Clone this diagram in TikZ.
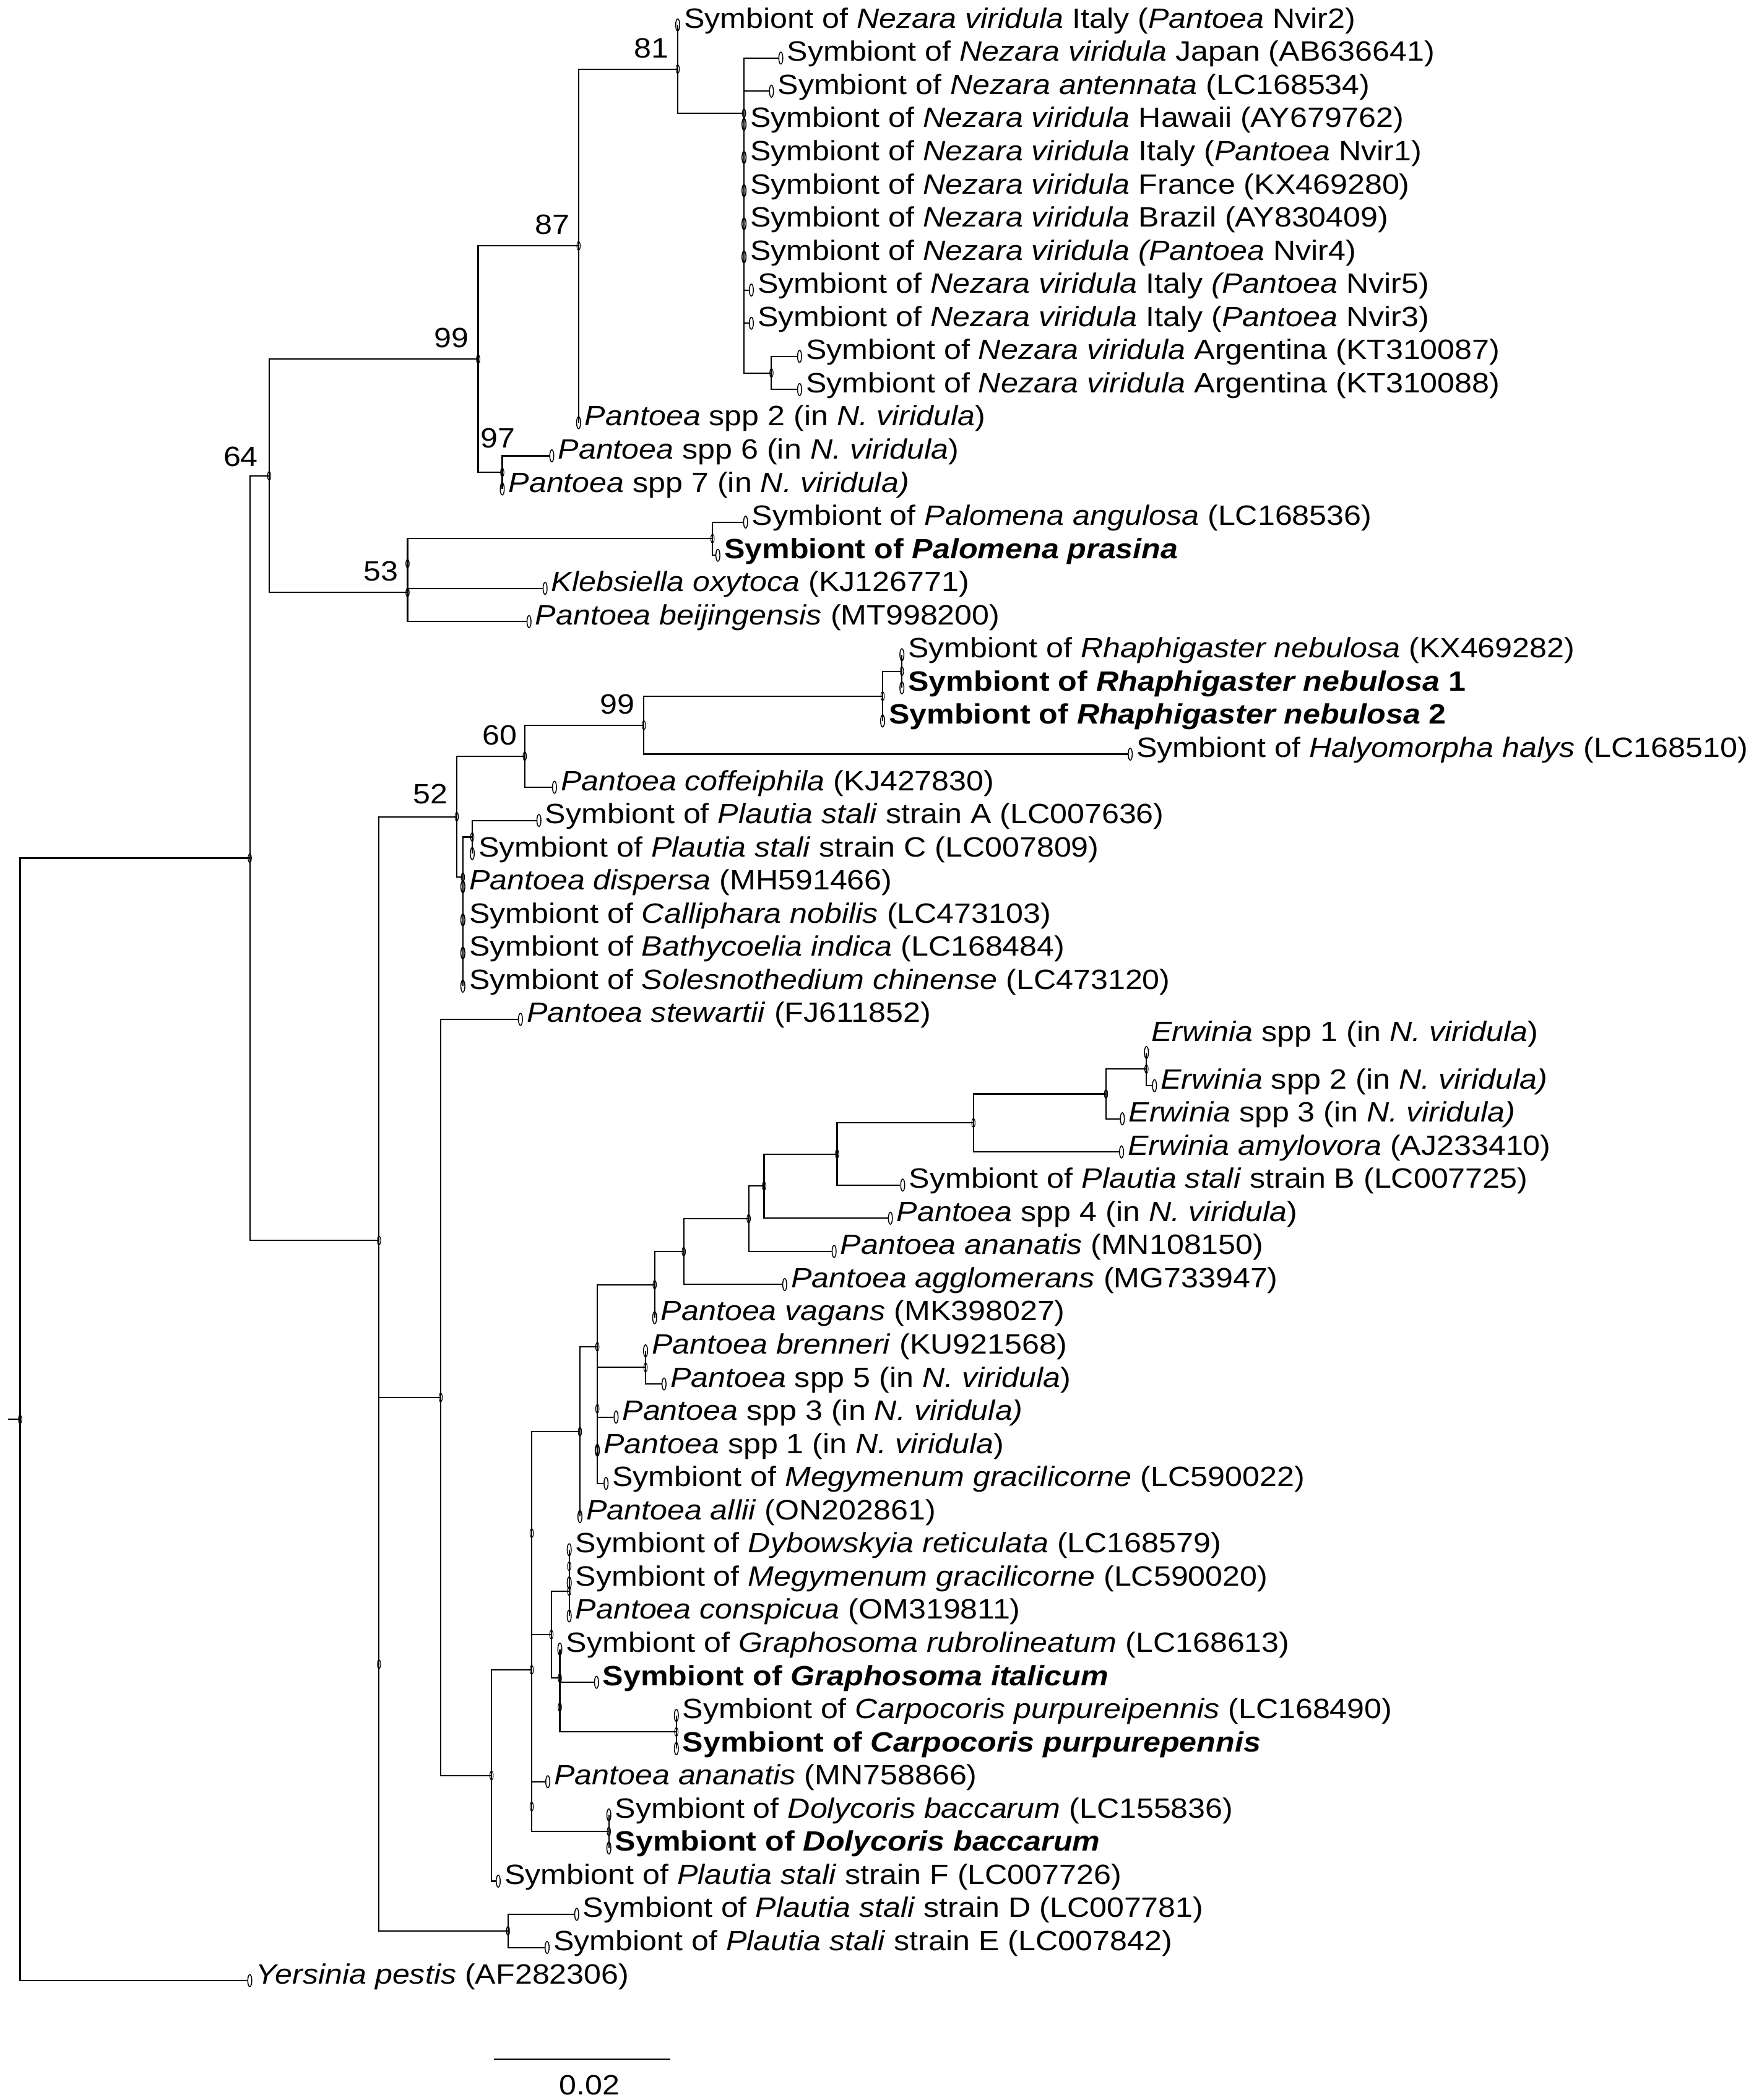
\documentclass[tikz,border=0pt]{standalone}
\usepackage{fontspec}
\setmainfont{Liberation Sans}
\usetikzlibrary{positioning}
\usetikzlibrary{shapes.geometric}

% row height of the leaves (picture units)
\newcommand{\row}[1]{18.6+24.75*#1}
% labels are a little flatter than plain Arial
\newcommand{\lb}[1]{\scalebox{1}[0.9]{#1}}

\begin{document}
\begin{tikzpicture}[
            x=0.02cm, y=-0.02cm,
            branch/.style={line width=0.55pt},
            tip/.style={
                ellipse, draw,
                line width=0.4pt,
                inner sep=0pt,
                minimum width=0.06cm,
                minimum height=0.18cm
            },
            inode/.style={
                ellipse, draw,
                line width=0.3pt,
                inner sep=0pt,
                minimum width=0.05cm,
                minimum height=0.13cm
            },
            lbl/.style={
                anchor=base west,
                xshift=0.05cm, yshift=-0.046cm,
                inner sep=0pt,
                font=\fontsize{13.2}{15}\selectfont
            },
            boot/.style={
                inner sep=0pt,
                font=\fontsize{13.2}{15}\selectfont
            }
        ]
        \useasboundingbox (0,0) rectangle (1313,1568);

        % leaves
        \node[tip] (t0) at (506,{\row{0}}) {};
        \node[tip] (t1) at (583,{\row{1}}) {};
        \node[tip] (t2) at (576,{\row{2}}) {};
        \node[tip] (t3) at (555.5,{\row{3}}) {};
        \node[tip] (t4) at (555.5,{\row{4}}) {};
        \node[tip] (t5) at (555.5,{\row{5}}) {};
        \node[tip] (t6) at (555.5,{\row{6}}) {};
        \node[tip] (t7) at (555.5,{\row{7}}) {};
        \node[tip] (t8) at (561,{\row{8}}) {};
        \node[tip] (t9) at (561,{\row{9}}) {};
        \node[tip] (t10) at (597,{\row{10}}) {};
        \node[tip] (t11) at (597,{\row{11}}) {};
        \node[tip] (t12) at (432,{\row{12}}) {};
        \node[tip] (t13) at (412,{\row{13}}) {};
        \node[tip] (t14) at (375,{\row{14}}) {};
        \node[tip] (t15) at (556.7,{\row{15}}) {};
        \node[tip] (t16) at (536,{\row{16}}) {};
        \node[tip] (t17) at (407,{\row{17}}) {};
        \node[tip] (t18) at (395,{\row{18}}) {};
        \node[tip] (t19) at (673.4,{\row{19}}) {};
        \node[tip] (t20) at (673.4,{\row{20}}) {};
        \node[tip] (t21) at (659,{\row{21}}) {};
        \node[tip] (t22) at (843.9,{\row{22}}) {};
        \node[tip] (t23) at (414,{\row{23}}) {};
        \node[tip] (t24) at (402.4,{\row{24}}) {};
        \node[tip] (t25) at (352.6,{\row{25}}) {};
        \node[tip] (t26) at (345.6,{\row{26}}) {};
        \node[tip] (t27) at (345.6,{\row{27}}) {};
        \node[tip] (t28) at (345.6,{\row{28}}) {};
        \node[tip] (t29) at (345.6,{\row{29}}) {};
        \node[tip] (t30) at (388.6,{\row{30}}) {};
        \node[tip] (t31) at (856,{\row{31}}) {};
        \node[tip] (t32) at (862,{\row{32}}) {};
        \node[tip] (t33) at (838,{\row{33}}) {};
        \node[tip] (t34) at (837.4,{\row{34}}) {};
        \node[tip] (t35) at (674,{\row{35}}) {};
        \node[tip] (t36) at (664.8,{\row{36}}) {};
        \node[tip] (t37) at (622.8,{\row{37}}) {};
        \node[tip] (t38) at (585.9,{\row{38}}) {};
        \node[tip] (t39) at (488.8,{\row{39}}) {};
        \node[tip] (t40) at (482,{\row{40}}) {};
        \node[tip] (t41) at (495.8,{\row{41}}) {};
        \node[tip] (t42) at (460,{\row{42}}) {};
        \node[tip] (t43) at (446,{\row{43}}) {};
        \node[tip] (t44) at (452.5,{\row{44}}) {};
        \node[tip] (t45) at (433,{\row{45}}) {};
        \node[tip] (t46) at (425,{\row{46}}) {};
        \node[tip] (t47) at (425,{\row{47}}) {};
        \node[tip] (t48) at (425,{\row{48}}) {};
        \node[tip] (t49) at (418,{\row{49}}) {};
        \node[tip] (t50) at (445.4,{\row{50}}) {};
        \node[tip] (t51) at (505,{\row{51}}) {};
        \node[tip] (t52) at (505,{\row{52}}) {};
        \node[tip] (t53) at (409,{\row{53}}) {};
        \node[tip] (t54) at (454.6,{\row{54}}) {};
        \node[tip] (t55) at (454.6,{\row{55}}) {};
        \node[tip] (t56) at (372,{\row{56}}) {};
        \node[tip] (t57) at (430.6,{\row{57}}) {};
        \node[tip] (t58) at (408.5,{\row{58}}) {};
        \node[tip] (t59) at (186.5,{\row{59}}) {};

        % leaf names
        \node[lbl] (l0) at (t0.east) {\lb{Symbiont of \textit{Nezara viridula} Italy (\textit{Pantoea} Nvir2)}};
        \node[lbl] (l1) at (t1.east) {\lb{Symbiont of \textit{Nezara viridula} Japan (AB636641)}};
        \node[lbl] (l2) at (t2.east) {\lb{Symbiont of \textit{Nezara antennata} (LC168534)}};
        \node[lbl] (l3) at (t3.east) {\lb{Symbiont of \textit{Nezara viridula} Hawaii (AY679762)}};
        \node[lbl] (l4) at (t4.east) {\lb{Symbiont of \textit{Nezara viridula} Italy (\textit{Pantoea} Nvir1)}};
        \node[lbl] (l5) at (t5.east) {\lb{Symbiont of \textit{Nezara viridula} France (KX469280)}};
        \node[lbl] (l6) at (t6.east) {\lb{Symbiont of \textit{Nezara viridula} Brazil (AY830409)}};
        \node[lbl] (l7) at (t7.east) {\lb{Symbiont of \textit{Nezara viridula (Pantoea} Nvir4)}};
        \node[lbl] (l8) at (t8.east) {\lb{Symbiont of \textit{Nezara viridula} Italy \textit{(Pantoea} Nvir5)}};
        \node[lbl] (l9) at (t9.east) {\lb{Symbiont of \textit{Nezara viridula} Italy (\textit{Pantoea} Nvir3)}};
        \node[lbl] (l10) at (t10.east) {\lb{Symbiont of \textit{Nezara viridula} Argentina (KT310087)}};
        \node[lbl] (l11) at (t11.east) {\lb{Symbiont of \textit{Nezara viridula} Argentina (KT310088)}};
        \node[lbl] (l12) at (t12.east) {\lb{\textit{Pantoea} spp 2 (in \textit{N. viridula})}};
        \node[lbl] (l13) at (t13.east) {\lb{\textit{Pantoea} spp 6 (in \textit{N. viridula})}};
        \node[lbl] (l14) at (t14.east) {\lb{\textit{Pantoea} spp 7 (in \textit{N. viridula)}}};
        \node[lbl] (l15) at (t15.east) {\lb{Symbiont of \textit{Palomena angulosa} (LC168536)}};
        \node[lbl] (l16) at (t16.east) {\lb{\textbf{Symbiont of \textit{Palomena prasina}}}};
        \node[lbl] (l17) at (t17.east) {\lb{\textit{Klebsiella oxytoca} (KJ126771)}};
        \node[lbl] (l18) at (t18.east) {\lb{\textit{Pantoea beijingensis} (MT998200)}};
        \node[lbl] (l19) at (t19.east) {\lb{Symbiont of \textit{Rhaphigaster nebulosa} (KX469282)}};
        \node[lbl] (l20) at (t20.east) {\lb{\textbf{Symbiont of \textit{Rhaphigaster nebulosa} 1}}};
        \node[lbl] (l21) at (t21.east) {\lb{\textbf{Symbiont of \textit{Rhaphigaster nebulosa} 2}}};
        \node[lbl] (l22) at (t22.east) {\lb{Symbiont of \textit{Halyomorpha halys} (LC168510)}};
        \node[lbl] (l23) at (t23.east) {\lb{\textit{Pantoea coffeiphila} (KJ427830)}};
        \node[lbl] (l24) at (t24.east) {\lb{Symbiont of \textit{Plautia stali} strain A (LC007636)}};
        \node[lbl] (l25) at (t25.east) {\lb{Symbiont of \textit{Plautia stali} strain C (LC007809)}};
        \node[lbl] (l26) at (t26.east) {\lb{\textit{Pantoea dispersa} (MH591466)}};
        \node[lbl] (l27) at (t27.east) {\lb{Symbiont of \textit{Calliphara nobilis} (LC473103)}};
        \node[lbl] (l28) at (t28.east) {\lb{Symbiont of \textit{Bathycoelia indica} (LC168484)}};
        \node[lbl] (l29) at (t29.east) {\lb{Symbiont of \textit{Solesnothedium chinense} (LC473120)}};
        \node[lbl] (l30) at (t30.east) {\lb{\textit{Pantoea stewartii} (FJ611852)}};
        \node[lbl, xshift=-0.02cm, yshift=0.21cm] (l31) at (t31.east) {\lb{\textit{Erwinia} spp 1 (in \textit{N. viridula})}};
        \node[lbl] (l32) at (t32.east) {\lb{\textit{Erwinia} spp 2 (in \textit{N. viridula)}}};
        \node[lbl] (l33) at (t33.east) {\lb{\textit{Erwinia} spp 3 (in \textit{N. viridula)}}};
        \node[lbl] (l34) at (t34.east) {\lb{\textit{Erwinia amylovora} (AJ233410)}};
        \node[lbl] (l35) at (t35.east) {\lb{Symbiont of \textit{Plautia stali} strain B (LC007725)}};
        \node[lbl] (l36) at (t36.east) {\lb{\textit{Pantoea} spp 4 (in \textit{N. viridula})}};
        \node[lbl] (l37) at (t37.east) {\lb{\textit{Pantoea ananatis} (MN108150)}};
        \node[lbl] (l38) at (t38.east) {\lb{\textit{Pantoea agglomerans} (MG733947)}};
        \node[lbl] (l39) at (t39.east) {\lb{\textit{Pantoea vagans} (MK398027)}};
        \node[lbl] (l40) at (t40.east) {\lb{\textit{Pantoea brenneri} (KU921568)}};
        \node[lbl] (l41) at (t41.east) {\lb{\textit{Pantoea} spp 5 (in \textit{N. viridula})}};
        \node[lbl] (l42) at (t42.east) {\lb{\textit{Pantoea} spp 3 (in \textit{N. viridula)}}};
        \node[lbl] (l43) at (t43.east) {\lb{\textit{Pantoea} spp 1 (in \textit{N. viridula})}};
        \node[lbl] (l44) at (t44.east) {\lb{Symbiont of \textit{Megymenum gracilicorne} (LC590022)}};
        \node[lbl] (l45) at (t45.east) {\lb{\textit{Pantoea allii} (ON202861)}};
        \node[lbl] (l46) at (t46.east) {\lb{Symbiont of \textit{Dybowskyia reticulata} (LC168579)}};
        \node[lbl] (l47) at (t47.east) {\lb{Symbiont of \textit{Megymenum gracilicorne} (LC590020)}};
        \node[lbl] (l48) at (t48.east) {\lb{\textit{Pantoea conspicua} (OM319811)}};
        \node[lbl] (l49) at (t49.east) {\lb{Symbiont of \textit{Graphosoma rubrolineatum} (LC168613)}};
        \node[lbl] (l50) at (t50.east) {\lb{\textbf{Symbiont of \textit{Graphosoma italicum}}}};
        \node[lbl] (l51) at (t51.east) {\lb{Symbiont of \textit{Carpocoris purpureipennis} (LC168490)}};
        \node[lbl] (l52) at (t52.east) {\lb{\textbf{Symbiont of \textit{Carpocoris purpurepennis}}}};
        \node[lbl] (l53) at (t53.east) {\lb{\textit{Pantoea ananatis} (MN758866)}};
        \node[lbl] (l54) at (t54.east) {\lb{Symbiont of \textit{Dolycoris baccarum} (LC155836)}};
        \node[lbl] (l55) at (t55.east) {\lb{\textbf{Symbiont of \textit{Dolycoris baccarum}}}};
        \node[lbl] (l56) at (t56.east) {\lb{Symbiont of \textit{Plautia stali} strain F (LC007726)}};
        \node[lbl] (l57) at (t57.east) {\lb{Symbiont of \textit{Plautia stali} strain D (LC007781)}};
        \node[lbl] (l58) at (t58.east) {\lb{Symbiont of \textit{Plautia stali} strain E (LC007842)}};
        \node[lbl] (l59) at (t59.east) {\lb{\textit{Yersinia pestis} (AF282306)}};

        % inner nodes
        \node[inode] (nArg) at (576,278.5) {};
        \node[inode] (nNez) at (555.5,84.5) {};
        \node[inode] (n81) at (506,51.55) {};
        \node[inode] (n87) at (432,183.6) {};
        \node[inode] (n97) at (375,352.7) {};
        \node[inode] (n99) at (357,268.15) {};
        \node[inode] (nPal) at (532,402.2) {};
        \node[inode] (nKl) at (304.3,420.8) {};
        \node[inode] (n53) at (304.3,442.45) {};
        \node[inode] (n64) at (201,355.3) {};
        \node[inode] (nRh1) at (673.4,501.2) {};
        \node[inode] (nRh) at (659,519.8) {};
        \node[inode] (n99b) at (480.8,541.45) {};
        \node[inode] (n60) at (391.8,564.65) {};
        \node[inode] (nAC) at (352.6,625) {};
        \node[inode] (nDis) at (345.6,655) {};
        \node[inode] (n52) at (341,609.8) {};
        \node[inode] (nEr2) at (856,798.2) {};
        \node[inode] (nEr) at (825.8,816.8) {};
        \node[inode] (nAmy) at (726.8,838.45) {};
        \node[inode] (nPsB) at (625,861.65) {};
        \node[inode] (nSp4) at (570.5,885.6) {};
        \node[inode] (nAna) at (559,910) {};
        \node[inode] (nAgg) at (510.5,934.55) {};
        \node[inode] (nVag) at (488.8,959.2) {};
        \node[inode] (nBre) at (482,1021) {};
        \node[inode] (nSp1) at (446,1082.85) {};
        \node[inode] (nSp5) at (446,1051.9) {};
        \node[inode] (nH) at (446,1005.6) {};
        \node[inode] (nAll) at (433,1069) {};
        \node[inode] (nDyb) at (425,1169.5) {};
        \node[inode] (nCon) at (425,1188) {};
        \node[inode] (nCar) at (505,1293.2) {};
        \node[inode] (nIta) at (418,1274.7) {};
        \node[inode] (nRub) at (418,1253) {};
        \node[inode] (nGra) at (411.7,1220.5) {};
        \node[inode] (nFG) at (397,1144.75) {};
        \node[inode] (nDol) at (454.6,1367.5) {};
        \node[inode] (nAD) at (397,1348.9) {};
        \node[inode] (nE) at (397,1246.8) {};
        \node[inode] (nStF) at (367,1325.7) {};
        \node[inode] (nC) at (329,1043.4) {};
        \node[inode] (nDE) at (379.3,1441.7) {};
        \node[inode] (nB2) at (283,1242.6) {};
        \node[inode] (nB) at (283,926.2) {};
        \node[inode] (nA) at (186.5,640.75) {};
        \node[inode] (root) at (15,1059.8) {};
        \coordinate (stub) at (6,1059.8);

        % bootstrap values
        \node[boot, above left=0.16cm and 0.13cm of n81.center] (b81) {\lb{81}};
        \node[boot, above left=0.16cm and 0.13cm of n87.center] (b87) {\lb{87}};
        \node[boot, above left=0.16cm and 0.13cm of n99.center] (b99) {\lb{99}};
        \node[boot, anchor=south east, xshift=0.2cm, yshift=0.36cm] (b97) at (n97.center) {\lb{97}};
        \node[boot, above left=0.13cm and 0.16cm of n64.center] (b64) {\lb{64}};
        \node[boot, above left=0.16cm and 0.13cm of n53.center] (b53) {\lb{53}};
        \node[boot, above left=0.16cm and 0.13cm of n99b.center] (b99b) {\lb{99}};
        \node[boot, above left=0.16cm and 0.11cm of n60.center] (b60) {\lb{60}};
        \node[boot, above left=0.18cm and 0.13cm of n52.center] (b52) {\lb{52}};

        % branches
        \draw[branch] (stub) -- (root.center);
        \draw[branch] (root.center) |- (nA.center) (root.center) |- (t59.west);
        \draw[branch] (nA.center) |- (n64.center) (nA.center) |- (nB.center);
        \draw[branch] (n64.center) |- (n99.center) (n64.center) |- (n53.center);
        \draw[branch] (n99.center) |- (n87.center) (n99.center) |- (n97.center);
        \draw[branch] (n87.center) |- (n81.center) (n87.center) |- (t12.center);
        \draw[branch] (n81.center) |- (t0.center) (n81.center) |- (nNez.center);
        \draw[branch] (nNez.center) |- (t1.west) (nNez.center) |- (t2.west);
        \draw[branch] (nNez.center) |- (t3.center) (nNez.center) |- (t7.center);
        \draw[branch] (nNez.center) |- (t8.west) (nNez.center) |- (t9.west);
        \draw[branch] (nNez.center) |- (nArg.center);
        \draw[branch] (nArg.center) |- (t10.west) (nArg.center) |- (t11.west);
        \draw[branch] (n97.center) |- (t13.west) (n97.center) |- (t14.center);
        \draw[branch] (n53.center) |- (nKl.center) (n53.center) |- (t18.west);
        \draw[branch] (nKl.center) |- (nPal.center) (nKl.center) |- (t17.west);
        \draw[branch] (nPal.center) |- (t15.west) (nPal.center) |- (t16.west);

        \draw[branch] (nB.center) |- (n52.center) (nB.center) |- (nB2.center);
        \draw[branch] (n52.center) |- (n60.center) (n52.center) |- (nDis.center);
        \draw[branch] (n60.center) |- (n99b.center) (n60.center) |- (t23.west);
        \draw[branch] (n99b.center) |- (nRh.center) (n99b.center) |- (t22.west);
        \draw[branch] (nRh.center) |- (nRh1.center) (nRh.center) |- (t21.center);
        \draw[branch] (nRh1.center) |- (t19.center) (nRh1.center) |- (t20.center);
        \draw[branch] (nDis.center) |- (nAC.center) (nDis.center) |- (t29.center);
        \draw[branch] (nAC.center) |- (t24.west) (nAC.center) |- (t25.center);

        \draw[branch] (nB2.center) |- (nC.center) (nB2.center) |- (nDE.center);
        \draw[branch] (nC.center) |- (t30.west) (nC.center) |- (nStF.center);
        \draw[branch] (nStF.center) |- (nE.center) (nStF.center) |- (t56.west);
        \draw[branch] (nE.center) |- (nFG.center) (nE.center) |- (nAD.center);
        \draw[branch] (nFG.center) |- (nAll.center) (nFG.center) |- (nGra.center);
        \draw[branch] (nAll.center) |- (nH.center) (nAll.center) |- (t45.center);
        \draw[branch] (nH.center) |- (nVag.center) (nH.center) |- (nSp5.center);
        \draw[branch] (nVag.center) |- (nAgg.center) (nVag.center) |- (t39.center);
        \draw[branch] (nAgg.center) |- (nAna.center) (nAgg.center) |- (t38.west);
        \draw[branch] (nAna.center) |- (nSp4.center) (nAna.center) |- (t37.west);
        \draw[branch] (nSp4.center) |- (nPsB.center) (nSp4.center) |- (t36.west);
        \draw[branch] (nPsB.center) |- (nAmy.center) (nPsB.center) |- (t35.west);
        \draw[branch] (nAmy.center) |- (nEr.center) (nAmy.center) |- (t34.west);
        \draw[branch] (nEr.center) |- (nEr2.center) (nEr.center) |- (t33.west);
        \draw[branch] (nEr2.center) |- (t31.center) (nEr2.center) |- (t32.west);
        \draw[branch] (nSp5.center) |- (nBre.center) (nSp5.center) |- (nSp1.center);
        \draw[branch] (nBre.center) |- (t40.center) (nBre.center) |- (t41.west);
        \draw[branch] (nSp1.center) |- (t42.west) (nSp1.center) |- (t44.west);
        \draw[branch] (nGra.center) |- (nCon.center) (nGra.center) |- (nRub.center);
        \draw[branch] (nCon.center) |- (nDyb.center) (nCon.center) |- (t48.center);
        \draw[branch] (nDyb.center) |- (t46.center) (nDyb.center) |- (t47.center);
        \draw[branch] (nRub.center) |- (t49.center) (nRub.center) |- (nIta.center);
        \draw[branch] (nIta.center) |- (t50.west) (nIta.center) |- (nCar.center);
        \draw[branch] (nCar.center) |- (t51.center) (nCar.center) |- (t52.center);
        \draw[branch] (nAD.center) |- (t53.west) (nAD.center) |- (nDol.center);
        \draw[branch] (nDol.center) |- (t54.center) (nDol.center) |- (t55.center);
        \draw[branch] (nDE.center) |- (t57.west) (nDE.center) |- (t58.west);

        % scale bar
        \coordinate (sb1) at (368.6,1537.5);
        \coordinate (sb2) at (500.4,1537.5);
        \draw[branch] (sb1) -- (sb2);
        \node[boot, anchor=base] (sbl) at (440,1564) {\lb{0.02}};

    \end{tikzpicture}
\end{document}
